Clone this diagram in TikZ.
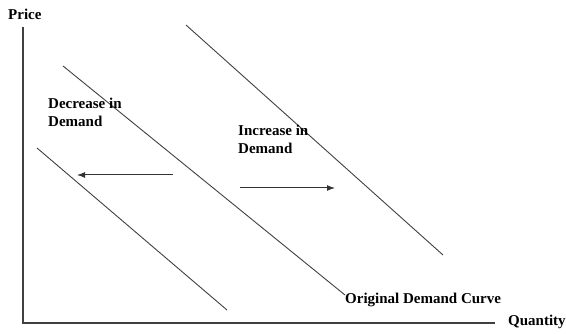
\documentclass[tikz,border=0pt]{standalone}
\usepackage{fontspec}
\setmainfont{Liberation Serif}
\usetikzlibrary{arrows.meta}
\begin{document}
\begin{tikzpicture}[x=1pt,y=-1pt,
  lbl/.style={font=\bfseries\fontsize{15}{18.5}\selectfont, inner sep=0pt, anchor=base west, align=left},
  axisline/.style={draw=black!75, line width=1.4pt},
  curve/.style={draw=black!75, line width=0.9pt},
  shiftarrow/.style={draw=black!80, line width=1pt, -{Latex[length=8pt,width=6pt]}}]
\useasboundingbox (0,0) rectangle (566,334);
% axes
\coordinate (ytop) at (23,27);
\coordinate (origin) at (23,323);
\coordinate (xend) at (495,323);
\draw[axisline] (ytop) -- (origin) -- (xend);
\node[lbl] (price) at (8,20) {Price};
\node[lbl] (qty) at (508,326) {Quantity};
% demand curves
\coordinate (o1) at (63,66);   \coordinate (o2) at (345,295);
\coordinate (l1) at (37,148);  \coordinate (l2) at (227,310);
\coordinate (r1) at (186,25);  \coordinate (r2) at (443,255);
\draw[curve] (o1) -- (o2);
\draw[curve] (l1) -- (l2);
\draw[curve] (r1) -- (r2);
% labels
\node[lbl] (dec) at (48,127) {Decrease in\\Demand};
\node[lbl] (inc) at (238,154) {Increase in\\Demand};
\node[lbl] (orig) at (345,304) {Original Demand Curve};
% arrows
\coordinate (da) at (173,175); \coordinate (db) at (77,175);
\coordinate (ia) at (240,188); \coordinate (ib) at (335,188);
\draw[shiftarrow] (da) -- (db);
\draw[shiftarrow] (ia) -- (ib);
\end{tikzpicture}
\end{document}
